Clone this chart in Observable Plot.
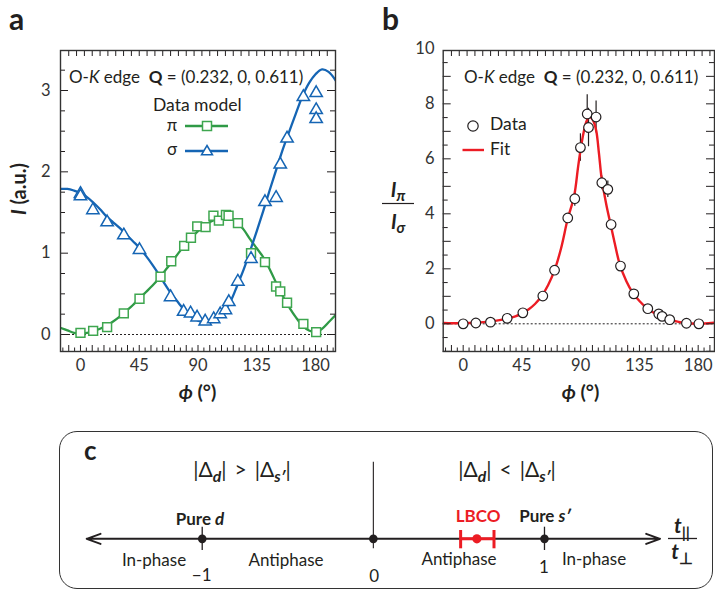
<!DOCTYPE html>
<html><head><meta charset="utf-8">
<script src="https://cdn.jsdelivr.net/npm/d3@7"></script>
<script src="https://cdn.jsdelivr.net/npm/@observablehq/plot@0.6"></script>
<style>
body{margin:0;background:#fff;}
#fig{position:relative;width:715px;height:592px;overflow:hidden;font-family:Lato,"Open Sans",sans-serif;color:#231f20}
#fig svg{position:absolute;overflow:visible}
.lab{position:absolute;line-height:1;white-space:nowrap}
.lab sub{font-size:.75em;vertical-align:baseline;position:relative;top:.28em}
.box{position:absolute;box-sizing:border-box;border:1.4px solid #333;border-radius:18px}
</style></head><body><div id="fig"></div>
<script>
// ---------- Panel a: intensity vs azimuth ----------
const sigmaPhi = [0,0,9.5,20.4,33.2,45.2,69,79,84.3,89.3,95.5,102,107,111,113.6,120.5,130.6,141.3,149.8,153,158.2,170.7,180.5,180.5,180.5];
const sigmaI   = [1.73,1.70,1.53,1.38,1.22,1.04,0.46,0.28,0.26,0.21,0.16,0.19,0.25,0.30,0.40,0.65,0.93,1.63,1.68,2.09,2.41,2.92,2.97,2.76,2.65];
const piPhi = [0,9.7,20.4,33.2,45.2,61.3,69.5,79.4,84.6,89.4,95.8,101.8,106,111.4,113.4,120.6,130.6,141.3,149.8,153,158.2,170.7,180.5];
const piI   = [0.02,0.045,0.09,0.26,0.44,0.71,0.90,1.09,1.19,1.33,1.32,1.46,1.40,1.47,1.46,1.37,1.00,0.89,0.59,0.53,0.39,0.13,0.03];
const modelPhi = [-15,-10,-5,0,5,10,15,20,25,30,35,40,45,50,55,60,65,70,75,80,85,90,95,100,105,110,115,120,125,130,135,140,145,150,155,160,165,170,175,180,185,190,196];
const sigmaModel = [1.79,1.79,1.77,1.74,1.69,1.62,1.54,1.45,1.38,1.31,1.23,1.15,1.07,0.97,0.86,0.74,0.61,0.49,0.39,0.29,0.22,0.17,0.15,0.17,0.21,0.29,0.41,0.60,0.80,1.03,1.27,1.52,1.78,2.03,2.28,2.50,2.72,2.93,3.09,3.20,3.26,3.23,3.11];
const piModel = [0.08,0.05,0.02,0.01,0.02,0.04,0.07,0.11,0.16,0.22,0.29,0.36,0.44,0.52,0.60,0.69,0.79,0.89,1.0,1.10,1.19,1.27,1.34,1.39,1.42,1.44,1.43,1.38,1.29,1.17,1.06,0.95,0.80,0.63,0.47,0.33,0.21,0.11,0.05,0.03,0.07,0.15,0.25];
const aYLabels = [0, 1, 2, 3];
const aYMajor = [0, 1, 2, 3];
const aYMinor = [0.25, 0.5, 0.75, 1.25, 1.5, 1.75, 2.25, 2.5, 2.75, 3.25];

// ---------- Panel b: intensity ratio ----------
const ratioPhi = [0,9.7,20.9,33.7,45.7,61,70,80.1,85.5,89.8,95,96,101.8,106.2,110.8,113.3,120.5,130.7,141.4,149.8,152.4,158.2,171,180.5];
const ratioVal = [0.0,0.03,0.06,0.2,0.4,1.01,1.95,3.85,4.55,6.41,7.63,7.14,7.52,5.13,4.89,3.61,2.1,1.09,0.55,0.36,0.27,0.15,0.02,0.0];
const ratioErr = [0,0,0,0,0,0.05,0.1,0.12,0.27,0.5,0.7,0.7,0.58,0.25,0.3,0.15,0.1,0.05,0,0,0,0,0,0];
const fitPhi = [-15,0,10,20,30,40,45,50,55,60,65,70,75,80,85,88,90,92,94,96,98,100,102,104,106,108,110,113,116,120,125,130,135,140,145,150,155,160,165,170,175,180,185,193];
const fitVal = [0.03,0.02,0.04,0.08,0.15,0.27,0.38,0.52,0.72,1.0,1.4,1.95,2.75,3.8,4.65,5.7,6.35,6.9,7.3,7.5,7.5,7.35,7.0,6.2,5.3,4.75,4.25,3.6,2.95,2.15,1.55,1.12,0.83,0.6,0.43,0.3,0.2,0.12,0.07,0.03,0.01,0.0,0.01,0.04];
const bYLabels = [0, 2, 4, 6, 8, 10];
const bYMajor = [-1, 0, 1, 2, 3, 4, 5, 6, 7, 8, 9];
const bYMinor = [-0.5, 0.5, 1.5, 2.5, 3.5, 4.5, 5.5, 6.5, 7.5, 8.5, 9.5];

// ---------- shared x ticks ----------
const xLabels = [0, 45, 90, 135, 180];
const xMajor = [-9, 0, 9, 18, 27, 36, 45, 54, 63, 72, 81, 90, 99, 108, 117, 126, 135, 144, 153, 162, 171, 180, 189];
const xMinor = [-13.5, -4.5, 4.5, 13.5, 22.5, 31.5, 40.5, 49.5, 58.5, 67.5, 76.5, 85.5, 94.5, 103.5, 112.5, 121.5, 130.5, 139.5, 148.5, 157.5, 166.5, 175.5, 184.5, 193.5];
const xTop = [-9, -3, 3, 9, 15, 21, 27, 33, 39, 45, 51, 57, 63, 69, 75, 81, 87, 93, 99, 105, 111, 117, 123, 129, 135, 141, 147, 153, 159, 165, 171, 177, 183, 189];

// ---------- Panel c: t_par / t_perp number line ----------
const cPoints = [-1, 0, 1];
const cPointLabels = ["\u22121", "0", "1"];
const cTicks = [-1, 1];
const cLineEnds = [-1.675, 1.675];
const lbcoValue = 0.605;
const lbcoRange = [0.51, 0.705];

// ---------- styles ----------
const INK = "#231f20", TICKC = "#333", BLUE = "#1565b4", GREEN = "#2f9a46", GREEN_PT = "#3ea64f", RED = "#ec1c24";
const FONT = "Lato, 'Open Sans', sans-serif";
const fig = document.getElementById("fig");
const FH = 301; // frame height in px (panels a, b)

function frameMarks(xDom, FW, yMajor, yMinor, yLabels, yPad) {
  const inX = v => v > xDom[0] && v < xDom[1];
  const t = {stroke: INK, strokeWidth: 1};
  return [
    Plot.tickX(xMajor.filter(inX), {...t, x: d => d, insetTop: FH - 6}),
    Plot.tickX(xMinor.filter(inX), {...t, x: d => d, insetTop: FH - 3.5}),
    Plot.tickX(xTop.filter(inX), {...t, x: d => d, insetBottom: FH - 6}),
    Plot.tickY(yMajor, {...t, y: d => d, insetRight: FW - 8}),
    Plot.tickY(yMinor, {...t, y: d => d, insetRight: FW - 5}),
    Plot.tickY(yMajor, {...t, y: d => d, insetLeft: FW - 8}),
    Plot.tickY(yMinor, {...t, y: d => d, insetLeft: FW - 5}),
    Plot.axisX(xLabels, {anchor: "bottom", tickSize: 0, tickPadding: 8, label: null, fill: TICKC, tickFormat: d => String(d)}),
    Plot.axisY(yLabels, {anchor: "left", tickSize: 0, tickPadding: yPad, label: null, fill: TICKC, tickFormat: d => String(d)}),
    Plot.frame({stroke: "#333", strokeWidth: 1.4})
  ];
}

const sigmaData = sigmaPhi.map((p, i) => ({phi: p, I: sigmaI[i]}));
const piData = piPhi.map((p, i) => ({phi: p, I: piI[i]}));
const model = modelPhi.map((p, i) => ({phi: p, s: sigmaModel[i], p: piModel[i]}));

const aXDom = [-15.3, 195.3];
const plotA = Plot.plot({
  width: 345, height: 400,
  marginLeft: 60, marginRight: 10, marginTop: 50, marginBottom: 49,
  x: {domain: aXDom},
  y: {domain: [-0.209, 3.492]},
  style: {fontFamily: FONT, fontSize: "16.5px", color: TICKC, background: "transparent"},
  marks: [
    Plot.ruleY([0], {stroke: INK, strokeWidth: 1, strokeDasharray: "2,2"}),
    Plot.line(model, {x: "phi", y: "p", stroke: GREEN, strokeWidth: 2.3, curve: "catmull-rom", clip: true}),
    Plot.line(model, {x: "phi", y: "s", stroke: BLUE, strokeWidth: 2.3, curve: "catmull-rom", clip: true}),
    Plot.dot(piData, {x: "phi", y: "I", symbol: "square", r: 5, stroke: GREEN_PT, strokeWidth: 1.5, fill: "white"}),
    Plot.dot(sigmaData, {x: "phi", y: "I", symbol: "triangle", r: 4.6, stroke: BLUE, strokeWidth: 1.5, fill: "white"}),
    ...frameMarks(aXDom, 275, aYMajor, aYMinor, aYLabels, 10)
  ]
});
plotA.style.left = "0px"; plotA.style.top = "0px";
fig.appendChild(plotA);

const ratioData = ratioPhi.map((p, i) => ({phi: p, v: ratioVal[i], lo: ratioVal[i] - ratioErr[i], hi: ratioVal[i] + ratioErr[i]}));
const fitData = fitPhi.map((p, i) => ({phi: p, v: fitVal[i]}));

const bXDom = [-15.3, 192.5];
const plotB = Plot.plot({
  width: 355, height: 400,
  marginLeft: 82.7, marginRight: 1, marginTop: 50, marginBottom: 49,
  x: {domain: bXDom},
  y: {domain: [-1.007, 9.94]},
  style: {fontFamily: FONT, fontSize: "16.5px", color: TICKC, background: "transparent"},
  marks: [
    Plot.ruleY([0], {stroke: INK, strokeWidth: 1, strokeDasharray: "2,2"}),
    Plot.ruleX(ratioData.filter(d => d.hi > d.lo), {x: "phi", y1: "lo", y2: "hi", stroke: INK, strokeWidth: 1.2}),
    Plot.line(fitData, {x: "phi", y: "v", stroke: RED, strokeWidth: 2.4, curve: "catmull-rom", clip: true}),
    Plot.dot(ratioData, {x: "phi", y: "v", r: 4.8, stroke: INK, strokeWidth: 1.2, fill: "white"}),
    ...frameMarks(bXDom, 271.3, bYMajor, bYMinor, bYLabels, 8.7)
  ]
});
plotB.style.left = "360px"; plotB.style.top = "0px";
fig.appendChild(plotB);

// panel c box
const box = document.createElement("div");
box.className = "box";
Object.assign(box.style, {left: "59px", top: "431px", width: "654px", height: "158px"});
fig.appendChild(box);

const plotC = Plot.plot({
  width: 655, height: 158,
  marginTop: 95.7, marginBottom: 39, marginLeft: 0, marginRight: 0,
  x: {domain: [-1.675, 1.675], range: [27.2, 600.5], axis: null},
  y: {domain: [-1, 1], axis: null},
  style: {background: "transparent"},
  marks: [
    Plot.ruleX([0], {x: d => d, insetTop: -65, insetBottom: 1.7, stroke: INK, strokeWidth: 1.1}),
    Plot.tickX(cTicks, {x: d => d, stroke: INK, strokeWidth: 1.3}),
    Plot.arrow(cLineEnds, {x1: () => 0, y1: () => 0, x2: d => d, y2: () => 0, stroke: INK, strokeWidth: 2, headLength: 11, headAngle: 40}),
    Plot.dot(cPoints, {x: d => d, y: () => 0, r: 4.3, fill: INK}),
    Plot.link([lbcoRange], {x1: d => d[0], x2: d => d[1], y1: () => 0, y2: () => 0, stroke: RED, strokeWidth: 3}),
    Plot.tickX(lbcoRange, {x: d => d, insetTop: 3.3, insetBottom: 1.7, stroke: RED, strokeWidth: 3}),
    Plot.dot([lbcoValue], {x: d => d, y: () => 0, r: 4.6, fill: RED})
  ]
});
plotC.style.left = "59px"; plotC.style.top = "431px";
fig.appendChild(plotC);

// ---------- text annotations ----------
function lab(html, x, base, size, o = {}) {
  const d = document.createElement("div");
  d.className = "lab";
  d.innerHTML = html;
  const anchor = o.anchor || "start";
  const tx = anchor === "middle" ? "translateX(-50%)" : anchor === "end" ? "translateX(-100%)" : "";
  d.style.cssText = `left:${x}px;top:${base - 0.887 * size}px;font-size:${size}px;font-weight:${o.weight || 400};color:${o.color || INK};transform:${tx};` + (o.style || "");
  fig.appendChild(d);
  return d;
}
function swatch(x, y, w, h, svg) {
  const d = document.createElement("div");
  d.style.cssText = `position:absolute;left:${x}px;top:${y}px;width:${w}px;height:${h}px`;
  d.innerHTML = `<svg width="${w}" height="${h}" style="position:absolute;left:0;top:0;overflow:visible">${svg}</svg>`;
  fig.appendChild(d);
}

// panel letters
lab("a", 9, 30, 30, {weight: 700});
lab("b", 382, 30, 30, {weight: 700});
lab("c", 84, 460, 26, {weight: 700});

// panel a annotations
const title = "O-<i>K</i> edge&nbsp; <b>Q</b> = (0.232, 0, 0.611)";
lab(title, 69, 83, 17);
lab(title, 464, 83, 17);
lab("Data model", 153, 112, 17.5);
lab("\u03c0", 172, 131.5, 17, {anchor: "middle"});
lab("\u03c3", 172, 155.5, 17, {anchor: "middle"});
swatch(184, 120, 46, 12, `<line x1="1" y1="6" x2="44" y2="6" stroke="${GREEN}" stroke-width="2.3"/><rect x="18.5" y="1.5" width="9" height="9" fill="white" stroke="${GREEN_PT}" stroke-width="1.5"/>`);
swatch(184, 145, 46, 12, `<line x1="1" y1="6" x2="44" y2="6" stroke="${BLUE}" stroke-width="2.3"/><path d="M23,0.5 L28.5,9.8 L17.5,9.8 Z" fill="white" stroke="${BLUE}" stroke-width="1.5"/>`);
const ya = lab("<b><i>I</i> (a.u.)</b>", 18, 189, 20);
ya.style.transform = "translate(-50%,-50%) rotate(-90deg)";
ya.style.top = "189px";
lab("<b><i>\u03d5</i> (\u00b0)</b>", 197.5, 399, 19.5, {anchor: "middle"});

// panel b annotations
swatch(466, 119, 14, 14, `<circle cx="7" cy="7" r="5.2" fill="white" stroke="${INK}" stroke-width="1.2"/>`);
lab("Data", 490, 131, 17.5);
swatch(462, 148, 24, 4, `<line x1="0.5" y1="2" x2="22" y2="2" stroke="${RED}" stroke-width="2.4"/>`);
lab("Fit", 490, 156, 17.5);
lab("<b><i>I</i></b><sub><b><i>\u03c0</i></b></sub>", 398, 196.7, 20, {anchor: "middle"});
lab("<b><i>I</i></b><sub><b><i>\u03c3</i></b></sub>", 398, 229, 20, {anchor: "middle"});
swatch(382, 202, 32, 3, `<line x1="0" y1="1.5" x2="32" y2="1.5" stroke="${INK}" stroke-width="1.2"/>`);
lab("<b><i>\u03d5</i> (\u00b0)</b>", 580.5, 399, 19.5, {anchor: "middle"});

// panel c annotations
const gt = "|\u0394<sub><b><i>d</i></b></sub>|&thinsp; &gt; &thinsp;|\u0394<sub><b><i>s\u2032</i></b></sub>|";
const lt = "|\u0394<sub><b><i>d</i></b></sub>|&thinsp; &lt; &thinsp;|\u0394<sub><b><i>s\u2032</i></b></sub>|";
lab(gt, 242, 477, 21, {anchor: "middle"});
lab(lt, 507, 477, 21, {anchor: "middle"});
lab("Pure <i>d</i>", 200, 525, 17, {anchor: "middle", weight: 700});
lab("LBCO", 478, 522, 17, {anchor: "middle", weight: 700, color: RED});
lab("Pure <i>s\u2032</i>", 545, 522, 17, {anchor: "middle", weight: 700});
lab("In-phase", 154, 566, 17, {anchor: "middle"});
lab("Antiphase", 286, 566, 17, {anchor: "middle"});
lab("Antiphase", 459, 565, 17, {anchor: "middle"});
lab("In-phase", 594, 565, 17, {anchor: "middle"});
const cx = [201.7, 374.3, 544];
const cBase = [581, 582, 573];
cPointLabels.forEach((t, i) => lab(t, cx[i], cBase[i], 17, {anchor: "middle"}));
lab("<b><i>t</i></b><sub><b>||</b></sub>", 682, 533, 21, {anchor: "middle"});
swatch(668, 537, 29, 3, `<line x1="0" y1="1.5" x2="29" y2="1.5" stroke="${INK}" stroke-width="1.3"/>`);
lab("<b><i>t</i></b><sub><b>\u22a5</b></sub>", 682, 559, 21, {anchor: "middle"});
</script>
</body></html>
